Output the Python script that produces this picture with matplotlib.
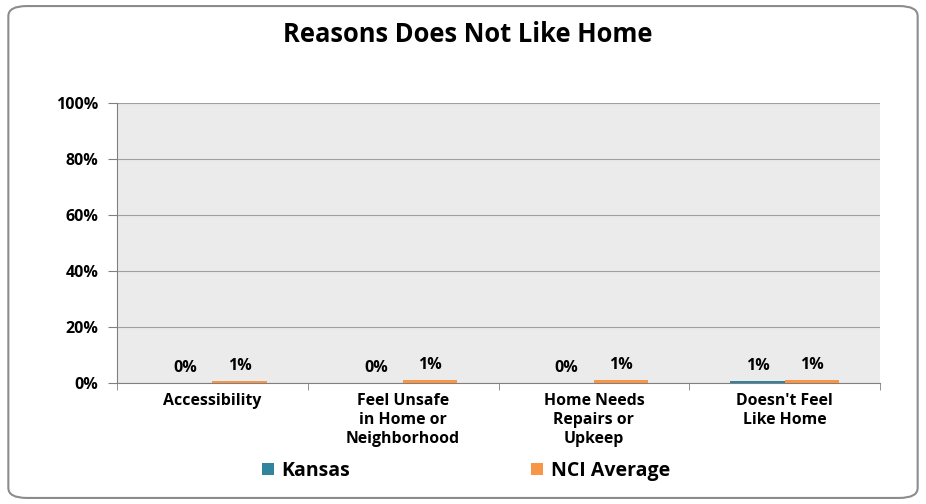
import numpy as np
import matplotlib.pyplot as plt
from matplotlib.patches import FancyBboxPatch

categories = ["Accessibility", "Feel Unsafe\nin Home or\nNeighborhood",
              "Home Needs\nRepairs or\nUpkeep", "Doesn't Feel\nLike Home"]
kansas = [0.1, 0.1, 0.1, 0.7]
nci = [0.6, 1.0, 0.9, 1.2]
kansas_labels = ["0%", "0%", "0%", "1%"]
nci_labels = ["1%", "1%", "1%", "1%"]

plt.rcParams["font.family"] = ["Open Sans", "DejaVu Sans"]
plt.rcParams["font.weight"] = "bold"

fig = plt.figure(figsize=(9.26, 5.04), dpi=100)
border = FancyBboxPatch((0.009, 0.012), 0.982, 0.976, boxstyle="round,pad=0,rounding_size=0.02",
                        transform=fig.transFigure, facecolor="white", edgecolor="#8c8c8c",
                        linewidth=1.5, zorder=-5)
fig.patches.append(border)

ax = fig.add_axes([117 / 926, 1 - 383 / 504, (880 - 117) / 926, (383 - 103) / 504])
ax.set_facecolor("#ebebeb")

x = np.arange(len(categories))
w = 0.285
b1 = ax.bar(x - w / 2, kansas, w, color="#31849b", label="Kansas", zorder=3)
b2 = ax.bar(x + w / 2, nci, w, color="#f79646", label="NCI Average", zorder=3)

for i in range(len(categories)):
    ax.text(x[i] - w / 2, kansas[i] + 2.5, kansas_labels[i], ha="center", va="bottom",
            fontsize=11.5, fontweight="bold")
    ax.text(x[i] + w / 2, nci[i] + 2.5, nci_labels[i], ha="center", va="bottom",
            fontsize=11.5, fontweight="bold")

ax.set_xlim(-0.5, len(categories) - 0.5)
ax.set_ylim(0, 100)
ax.set_yticks(range(0, 101, 20))
ax.set_yticklabels([f"{v}%" for v in range(0, 101, 20)], fontsize=11.5, fontweight="bold")
ax.set_xticks(x)
ax.set_xticklabels(categories, fontsize=11.4, fontweight="bold", linespacing=1.25)
ax.tick_params(axis="x", length=0, pad=7)
ax.tick_params(axis="y", length=6.5, color="#808080", pad=7)
ax.set_xticks(np.arange(-0.5, len(categories), 1), minor=True)
ax.tick_params(axis="x", which="minor", length=5, color="#808080")
ax.yaxis.grid(True, color="#a0a0a0", linewidth=0.8, zorder=0)
ax.set_axisbelow(True)
for s in ["top", "right"]:
    ax.spines[s].set_visible(False)
ax.spines["left"].set_color("#808080")
ax.spines["bottom"].set_color("#808080")

fig.text(468 / 926, 1 - 34 / 504, "Reasons Does Not Like Home", ha="center", va="center",
         fontsize=18.4, fontweight="bold")

fig.legend(handles=[b1, b2], labels=["Kansas", "NCI Average"], loc="center",
           bbox_to_anchor=(466 / 926, 1 - 471 / 504), ncol=2, frameon=False,
           prop={"size": 14, "weight": "bold"}, columnspacing=9.3, handlelength=0.6,
           handleheight=0.6, handletextpad=0.4)

fig.savefig("out.png", dpi=100)
